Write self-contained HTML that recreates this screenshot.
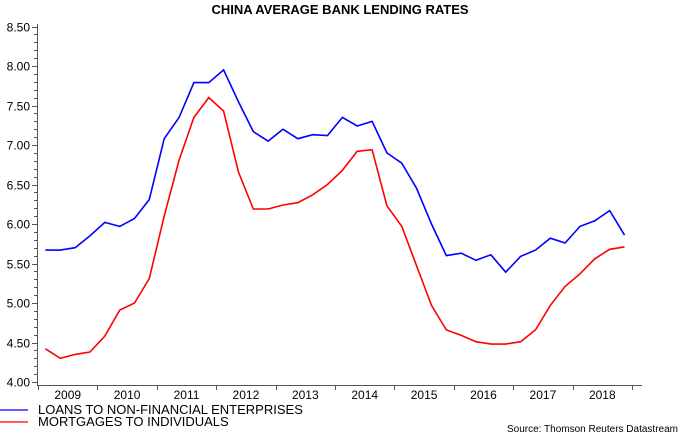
<!DOCTYPE html>
<html><head><meta charset="utf-8"><style>
html,body{margin:0;padding:0;background:#fff;}
svg{display:block;font-family:"Liberation Sans",Arial,sans-serif;}
</style></head><body>
<svg id="c" width="680" height="434" viewBox="0 0 680 434" xmlns="http://www.w3.org/2000/svg">
<rect width="680" height="434" fill="#fff"/>
<text x="340" y="14" text-anchor="middle" font-size="13" font-weight="bold">CHINA AVERAGE BANK LENDING RATES</text>
<g id="ax" stroke="#555" stroke-width="1"></g>
<g id="lab" font-size="12" fill="#000"></g>
<polyline id="b" fill="none" stroke="#0000ff" stroke-width="1.6"/>
<polyline id="r" fill="none" stroke="#ff0000" stroke-width="1.6"/>
<line x1="0" y1="410" x2="28" y2="410" stroke="#0000ff" stroke-width="1.3"/>
<line x1="0" y1="422" x2="28" y2="422" stroke="#ff0000" stroke-width="1.3"/>
<text x="38" y="414" font-size="13">LOANS TO NON-FINANCIAL ENTERPRISES</text>
<text x="38" y="426" font-size="13">MORTGAGES TO INDIVIDUALS</text>
<text x="678" y="432" font-size="10" text-anchor="end">Source: Thomson Reuters Datastream</text>
</svg>
<script>
var Y=function(v){return 26.5+(8.5-v)*79;};
var X=function(i){return 45.4+14.85*i;};
var blue=[5.67,5.67,5.70,5.85,6.02,5.97,6.07,6.31,7.08,7.35,7.79,7.79,7.95,7.55,7.17,7.05,7.20,7.08,7.13,7.12,7.35,7.24,7.30,6.90,6.77,6.45,6.00,5.60,5.63,5.54,5.61,5.39,5.59,5.67,5.82,5.76,5.97,6.04,6.17,5.86];
var red=[4.42,4.30,4.35,4.38,4.58,4.91,5.00,5.31,6.10,6.81,7.35,7.60,7.43,6.66,6.19,6.19,6.24,6.27,6.37,6.50,6.68,6.92,6.94,6.23,5.97,5.47,4.97,4.66,4.59,4.51,4.48,4.48,4.51,4.66,4.97,5.21,5.37,5.56,5.68,5.71];
function pts(a){return a.map(function(v,i){return X(i).toFixed(1)+","+Y(v).toFixed(1);}).join(" ");}
document.getElementById("b").setAttribute("points",pts(blue));
document.getElementById("r").setAttribute("points",pts(red));
var ns="http://www.w3.org/2000/svg",ax=document.getElementById("ax"),lab=document.getElementById("lab");
function ln(x1,y1,x2,y2){var l=document.createElementNS(ns,"line");l.setAttribute("x1",x1);l.setAttribute("y1",y1);l.setAttribute("x2",x2);l.setAttribute("y2",y2);ax.appendChild(l);}
function tx(x,y,s,a){var t=document.createElementNS(ns,"text");t.setAttribute("x",x);t.setAttribute("y",y);t.setAttribute("text-anchor",a);t.textContent=s;lab.appendChild(t);}
ln(37.5,24,37.5,385);ln(37,385.5,642,385.5);
for(var k=0;k<=45;k++){var v=4+k*0.1,y=Math.round(Y(v))+0.5;ln(k%5==0?32:34,y,37.5,y);
 if(k%5==0)tx(30,y+4,v.toFixed(2),"end");}
for(var j=0;j<=10;j++){var x=Math.round(38+59.4*j)+0.5;ln(x,385,x,390);
 if(j<10)tx(38+59.4*j+29.7,399,String(2009+j),"middle");}
</script>
</body></html>
